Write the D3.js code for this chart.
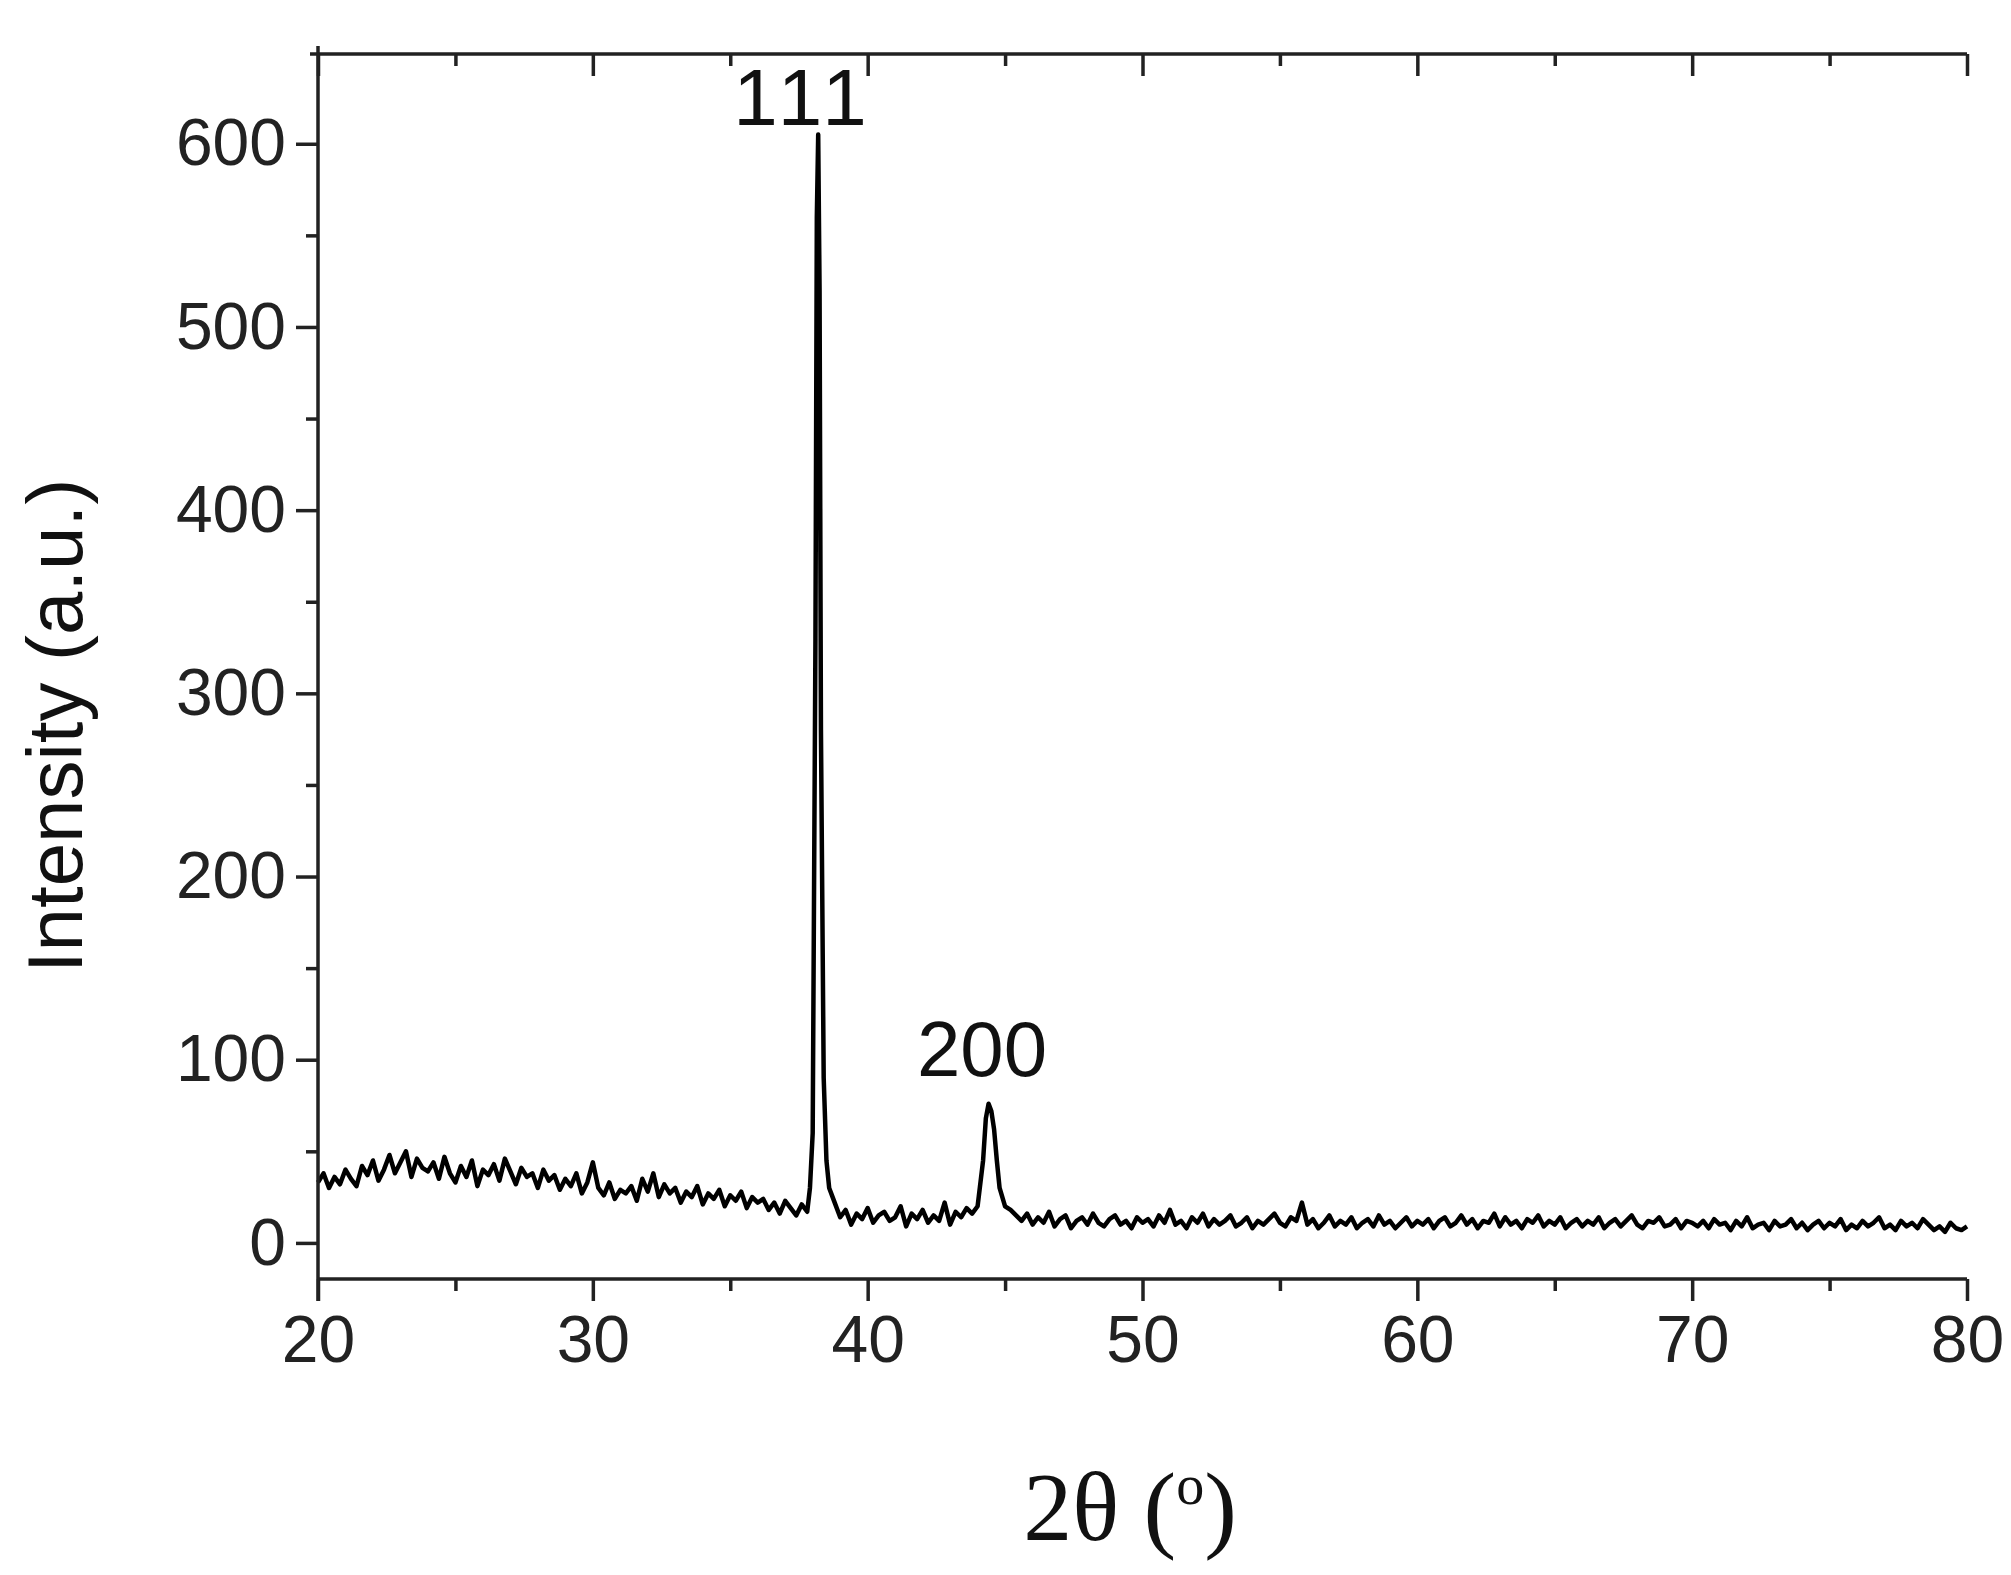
<!DOCTYPE html>
<html><head><meta charset="utf-8">
<script src="https://cdn.jsdelivr.net/npm/d3@7"></script>
<style>body{margin:0;background:#fff}</style></head>
<body><svg id="c" width="2011" height="1575"></svg>
<script>
// Background segments: [start angle, values at 0.2° step]
const segA = [33,38,30,36,32,40,35,31,42,37,45,34,40,48,38,44,50,36,46,41,39]; // 20.0
const segB = [44,35,47,38,33,42,36,45,31,40,37,43,34,46,39,32,41,36,38,30,40,34,37,29,35,31,38,27,33,44]; // 24.2
const segC = [30,26,33,24,29,27,31,23,35,28,38,25,32,27,30,22,28,25,31,21,27,24,29,20,26,23,28,19,25,22]; // 30.2
const segD = [24,18,22,16,23,19,15,21,17]; // 36.2
const peak111Angles = [37.9,38.0,38.1,38.15,38.2,38.25,38.3,38.4,38.5,38.6,38.8];
const peak111Vals = [30,60,330,560,605,520,280,90,45,30,22];
const segE = [14,18,10,16,13,19,11,15,17,12,14,20,9,16,13,18,11,15,12,22,10,17,14,19,16,20]; // 39.0
const peak200Angles = [44.2,44.3,44.4,44.5,44.6,44.7,44.8,45.0];
const peak200Vals = [45,68,76,72,62,45,30,20];
const segF = [18,15,12,16,10,14,11,17,9,13,15,8,12,14,10,16,11,9,13,15,10,12,8,14,11]; // 45.2
const segG = [13,9,15,11,18,10,12,8,14,11,16,9,13,10,12,15,9,11,14,8,12,10,13,16,11,9,14,12,22,10,13,8,11,15,9,12,10,14,8,11,13,9,15,10,12,8,11,14,9,12]; // 50.2
const segH = [10,13,8,12,14,9,11,15,10,13,8,12,11,16,9,14,10,12,8,13,11,15,9,12,10,14,8,11,13,9,12,10,14,8,11,13,9,12,15,10,8,12,11,14,9,10,13,8,12,11]; // 60.2
const segI = [9,12,8,13,10,11,7,12,9,14,8,10,11,7,12,9,10,13,8,11,7,10,12,8,11,9,13,7,10,8,12,9,11,14,8,10,7,12,9,11,8,13,10,7,9,6,11,8,7,9]; // 70.2
const xTicks = [20,30,40,50,60,70,80];
const yTicks = [0,100,200,300,400,500,600];

const data = [];
const addSeg = (start, vals) => vals.forEach((v,i)=>data.push([Math.round((start+i*0.2)*100)/100, v]));
const addPk = (a, v) => a.forEach((x,i)=>data.push([x, v[i]]));
addSeg(20.0, segA); addSeg(24.2, segB); addSeg(30.2, segC); addSeg(36.2, segD);
addPk(peak111Angles, peak111Vals); addSeg(39.0, segE); addPk(peak200Angles, peak200Vals);
addSeg(45.2, segF); addSeg(50.2, segG); addSeg(60.2, segH); addSeg(70.2, segI);

const L=318, R=1967, T=54, B=1279;
const svg = d3.select('#c');
const x = d3.scaleLinear().domain([20,80]).range([L,R]);
const y = d3.scaleLinear().domain([-19.7,649]).range([B,T]);
const font = "'Liberation Sans', Arial, sans-serif";

svg.append('path').datum(data).attr('fill','none').attr('stroke','#000')
  .attr('stroke-width',4.5).attr('stroke-linejoin','round')
  .attr('d', d3.line().x(d=>x(d[0])).y(d=>y(d[1])));

const styleAx = g => { g.selectAll('path,line').attr('stroke','#222').attr('stroke-width',3.5);
  g.selectAll('text').attr('font-family',font).attr('font-size',66).attr('fill','#222'); g.select('.domain').remove(); };

const minorX = d3.range(25,80,10);
const minorY = d3.range(50,650,100);
svg.append('g').attr('transform',`translate(0,${B})`).call(d3.axisBottom(x).tickValues(xTicks).tickSize(22).tickPadding(14)).call(styleAx);
svg.append('g').attr('transform',`translate(0,${B})`).call(d3.axisBottom(x).tickValues(minorX).tickSize(12).tickFormat('')).call(styleAx);
svg.append('g').attr('transform',`translate(0,${T})`).call(d3.axisBottom(x).tickValues(xTicks).tickSize(22).tickFormat('')).call(styleAx);
svg.append('g').attr('transform',`translate(0,${T})`).call(d3.axisBottom(x).tickValues(minorX).tickSize(12).tickFormat('')).call(styleAx);
svg.append('g').attr('transform',`translate(${L},0)`).call(d3.axisLeft(y).tickValues(yTicks).tickSize(22).tickPadding(10)).call(styleAx);
svg.append('g').attr('transform',`translate(${L},0)`).call(d3.axisLeft(y).tickValues(minorY).tickSize(12).tickFormat('')).call(styleAx);
svg.append('line').attr('x1',L).attr('x2',R).attr('y1',B).attr('y2',B).attr('stroke','#222').attr('stroke-width',3.5);
svg.append('line').attr('x1',L-8).attr('x2',R).attr('y1',T).attr('y2',T).attr('stroke','#222').attr('stroke-width',3.5);
svg.append('line').attr('x1',L).attr('x2',L).attr('y1',T-8).attr('y2',B+22).attr('stroke','#222').attr('stroke-width',3.5);

svg.append('text').attr('x',803).attr('y',125).attr('text-anchor','middle').attr('font-family',font).attr('font-size',80).attr('letter-spacing',6).attr('fill','#111').text('111');
svg.append('text').attr('x',982).attr('y',1076).attr('text-anchor','middle').attr('font-family',font).attr('font-size',78).attr('fill','#111').text('200');
svg.append('text').attr('transform','translate(82,726) rotate(-90)').attr('text-anchor','middle').attr('font-family',font).attr('font-size',78).attr('fill','#111').text('Intensity (a.u.)');
const xt = svg.append('text').attr('x',1130).attr('y',1540).attr('text-anchor','middle').attr('font-family',"'Liberation Serif','DejaVu Serif',serif").attr('font-size',98).attr('fill','#111');
xt.append('tspan').text('2θ (');
xt.append('tspan').attr('font-size',56).attr('dy',-36).text('o');
xt.append('tspan').attr('dy',36).text(')');
</script></body></html>
